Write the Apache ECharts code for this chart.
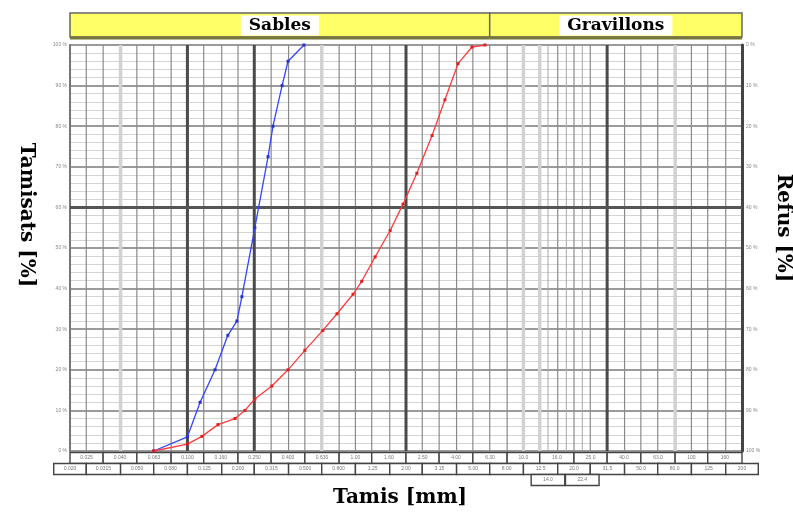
<!DOCTYPE html>
<html><head><meta charset="utf-8">
<script src="https://cdn.jsdelivr.net/npm/echarts@6/dist/echarts.min.js"></script>
<style>html,body{margin:0;padding:0;background:#fff}#c{width:793px;height:513px}</style>
</head><body><div id="c"></div>
<script>
// Sieve series (mm), R10 series from 0.020 to 200
const sieveMM = [0.02, 0.025, 0.0315, 0.04, 0.05, 0.063, 0.08, 0.1, 0.125, 0.16, 0.2, 0.25, 0.315, 0.4, 0.5, 0.63, 0.8, 1, 1.25, 1.6, 2, 2.5, 3.15, 4, 5, 6.3, 8, 10, 12.5, 16, 20, 25, 31.5, 40, 50, 63, 80, 100, 125, 160, 200];
// tick labels: row 1 = odd sieves, row 2 = even sieves, row 3 = extra sieves
const row1Labels = ['0.025','0.040','0.063','0.100','0.160','0.250','0.400','0.630','1.00','1.60','2.50','4.00','6.30','10.0','16.0','25.0','40.0','63.0','100','160'];
const row2Labels = ['0.020','0.0315','0.050','0.080','0.125','0.200','0.315','0.500','0.800','1.25','2.00','3.15','5.00','8.00','12.5','20.0','31.5','50.0','80.0','125','200'];
const row3Sieves = [14, 22.4];
const row3Labels = ['14.0','22.4'];
const darkLines = [0.1, 0.25, 2, 31.5];
const greyLines = [0.04, 0.63, 10, 12.5, 80];
const extraLines = [14, 18, 22.4];
const zoneNames = ['Sables', 'Gravillons'];
const zoneLimits = [0.02, 6.3, 200];
// curves
const blueSizes = [0.063, 0.1, 0.119, 0.146, 0.174, 0.197, 0.211, 0.252, 0.302, 0.323, 0.366, 0.397, 0.494];
const bluePass  = [0, 3.5, 12, 20, 28.5, 32, 38, 55, 72.5, 80, 90, 96, 100];
const redSizes = [0.063, 0.1, 0.122, 0.152, 0.192, 0.22, 0.252, 0.318, 0.397, 0.50, 0.64, 0.777, 0.968, 1.09, 1.31, 1.61, 1.92, 2.32, 2.86, 3.41, 4.08, 4.94, 5.9];
const redPass  = [0, 1.7, 3.6, 6.5, 8, 10, 12.8, 16, 20, 24.8, 29.7, 33.8, 38.6, 41.8, 47.8, 54.3, 60.8, 68.4, 77.7, 86.5, 95.4, 99.5, 100];

const R = sieveMM[1] / sieveMM[0];
const ext = i => i < 0 ? sieveMM[0] / R : (i >= sieveMM.length ? sieveMM[sieveMM.length - 1] * R : sieveMM[i]);

// vertical grid lines
const vStyles = [
  {c: '#8a8a8a', w: 1.2},
  {c: '#4a4a4a', w: 3},
  {c: '#d2d2d2', w: 3.5},
  {c: '#a8a8a8', w: 1}
];
const vData = [];
greyLines.forEach(v => vData.push([v, 2]));
sieveMM.slice(1, -1).forEach(v => {
  if (greyLines.indexOf(v) < 0 && darkLines.indexOf(v) < 0) vData.push([v, 0]);
});
extraLines.forEach(v => vData.push([v, 3]));
darkLines.forEach(v => vData.push([v, 1]));

// label cells
const cellData = [], cellLabels = [];
sieveMM.forEach((v, i) => {
  if (i % 2 === 1) { cellData.push([ext(i - 1), ext(i + 1), 0]); cellLabels.push(row1Labels[(i - 1) / 2]); }
});
sieveMM.forEach((v, i) => {
  if (i % 2 === 0) { cellData.push([ext(i - 1), ext(i + 1), 1]); cellLabels.push(row2Labels[i / 2]); }
});
const r10 = Math.pow(10, 0.1);
row3Sieves.forEach((s, i) => { cellData.push([s / r10, s * r10, 2]); cellLabels.push(row3Labels[i]); });

const zoneData = zoneNames.map((n, i) => [zoneLimits[i], zoneLimits[i + 1], i]);

const chart = echarts.init(document.getElementById('c'));
const serif = '"DejaVu Serif", "Liberation Serif", serif';

chart.setOption({
  animation: false,
  backgroundColor: '#fff',
  grid: {left: 70, right: 51, top: 45, bottom: 53, show: false},
  xAxis: {
    type: 'log', logBase: 10, min: zoneLimits[0], max: zoneLimits[2],
    axisLabel: {show: false}, axisTick: {show: false}, splitLine: {show: false},
    axisLine: {show: false},
    name: 'Tamis [mm]', nameLocation: 'middle', nameGap: 37,
    nameTextStyle: {fontFamily: serif, fontWeight: 'bold', fontSize: 20, color: '#000', padding: [0, 12, 0, 0]}
  },
  yAxis: [{
    type: 'value', min: 0, max: 100, interval: 10, position: 'left',
    axisLine: {show: true, lineStyle: {color: '#777', width: 2}},
    axisTick: {show: false},
    axisLabel: {formatter: '{value} %', fontSize: 5, color: '#888', margin: 3},
    splitLine: {show: true, lineStyle: {color: '#7a7a7a', width: 1.5}},
    minorTick: {show: false, splitNumber: 5},
    minorSplitLine: {show: true, lineStyle: {color: '#d4d4d4', width: 1.2}}
  }, {
    type: 'value', min: 0, max: 100, interval: 10, position: 'right', inverse: true,
    axisLine: {show: true, lineStyle: {color: '#444', width: 3}},
    axisTick: {show: false},
    axisLabel: {formatter: '{value} %', fontSize: 5, color: '#888', margin: 4},
    splitLine: {show: false}
  }],
  graphic: [
    {type: 'text', x: 26, y: 215, rotation: -Math.PI / 2,
     style: {text: 'Tamisats [%]', align: 'center', verticalAlign: 'middle', font: 'bold 20px ' + serif, fill: '#000'}},
    {type: 'text', x: 783, y: 228, rotation: -Math.PI / 2,
     style: {text: 'Refus [%]', align: 'center', verticalAlign: 'middle', font: 'bold 20px ' + serif, fill: '#000'}}
  ],
  series: [
    {
      type: 'custom', name: 'vgrid', silent: true, z: 1, clip: false,
      data: vData,
      renderItem: (params, api) => {
        const v = api.value(0), t = api.value(1);
        const p0 = api.coord([v, 0]), p1 = api.coord([v, 100]);
        const st = vStyles[t];
        return {type: 'line', shape: {x1: p0[0], y1: p0[1], x2: p1[0], y2: p1[1]},
                style: {stroke: st.c, lineWidth: st.w}};
      }
    },
    {
      type: 'custom', name: 'cells', silent: true, z: 4, clip: false,
      data: cellData,
      renderItem: (params, api) => {
        const lo = api.value(0), hi = api.value(1), row = api.value(2);
        const a = api.coord([lo, 0]), b = api.coord([hi, 0]);
        const y = a[1] + 1.5 + row * 11;
        return {type: 'group', children: [
          {type: 'rect', shape: {x: a[0], y: y, width: b[0] - a[0], height: 11},
           style: {fill: '#fff', stroke: '#444', lineWidth: 1.4}},
          {type: 'text', style: {text: cellLabels[params.dataIndex], x: (a[0] + b[0]) / 2, y: y + 5.5,
            align: 'center', verticalAlign: 'middle', fill: '#777', font: '5px sans-serif'}}
        ]};
      }
    },
    {
      type: 'custom', name: 'zones', silent: true, z: 4, clip: false,
      data: zoneData,
      renderItem: (params, api) => {
        const a = api.coord([api.value(0), 100]), b = api.coord([api.value(1), 100]);
        const top = a[1] - 32, h = 24;
        return {type: 'group', children: [
          {type: 'rect', shape: {x: a[0], y: top, width: b[0] - a[0], height: h},
           style: {fill: '#ffff66', stroke: '#666', lineWidth: 1.5}},
          {type: 'line', shape: {x1: a[0], y1: top + h + 1, x2: b[0], y2: top + h + 1},
           style: {stroke: '#77773a', lineWidth: 3}},
          {type: 'text', style: {text: zoneNames[params.dataIndex], x: (a[0] + b[0]) / 2, y: top + h / 2 + 0.5,
            align: 'center', verticalAlign: 'middle', font: 'bold 17px ' + serif, fill: '#000',
            backgroundColor: '#fff', padding: [2, 8, 1, 8]}}
        ]};
      }
    },
    {
      type: 'line', name: 'Tamisat 1', z: 5,
      data: blueSizes.map((s, i) => [s, bluePass[i]]),
      lineStyle: {color: '#3344ff', width: 1.3},
      itemStyle: {color: '#2233cc'},
      symbol: 'rect', symbolSize: 3, showSymbol: true,
      markLine: {silent: true, symbol: 'none', label: {show: false},
        lineStyle: {color: '#555', width: 3, type: 'solid'}, data: [{yAxis: 60}], z: 2}
    },
    {
      type: 'line', name: 'Tamisat 2', z: 5,
      data: redSizes.map((s, i) => [s, redPass[i]]),
      lineStyle: {color: '#ff3b3b', width: 1.3},
      itemStyle: {color: '#e02020'},
      symbol: 'rect', symbolSize: 3, showSymbol: true
    }
  ]
});
</script></body></html>
